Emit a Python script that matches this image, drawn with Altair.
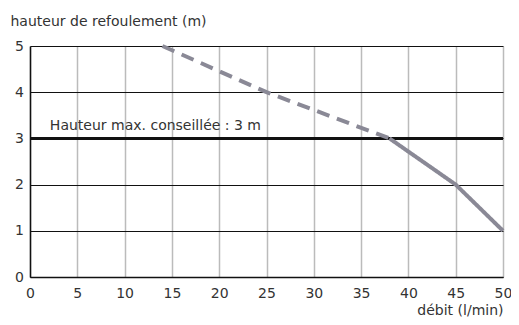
import altair as alt
import pandas as pd

# data
debit = [14, 25, 38, 38, 45, 50]
hauteur = [5, 4, 3, 3, 2, 1]
segment = ["dashed", "dashed", "dashed", "solid", "solid", "solid"]
x_ticks = [0, 5, 10, 15, 20, 25, 30, 35, 40, 45, 50]
y_ticks = [0, 1, 2, 3, 4, 5]
max_height = 3
max_label = "Hauteur max. conseillée : 3 m"

df = pd.DataFrame({"debit": debit, "hauteur": hauteur, "segment": segment})
ref = pd.DataFrame({"y": [max_height], "x": [2.1], "label": [max_label]})

FONT = "DejaVu Sans"
FS = 14
TXT = "#333333"

xenc = alt.X("debit:Q", scale=alt.Scale(domain=[0, 50], nice=False),
             axis=alt.Axis(values=x_ticks, title="débit (l/min)", titleX=473, titleY=37,
                           titleAlign="right", titleBaseline="alphabetic",
                           titleFontWeight="normal", titleFontSize=FS, titleColor=TXT,
                           labelFontSize=FS, labelColor=TXT, labelPadding=9, tickSize=0,
                           grid=True, gridColor="#bbbbbb", gridWidth=1.5,
                           domainColor="#111111", domainWidth=1.5, labelFlush=False))
yenc = alt.Y("hauteur:Q", scale=alt.Scale(domain=[0, 5], nice=False),
             axis=alt.Axis(values=y_ticks, title="hauteur de refoulement (m)", titleAngle=0,
                           titleX=-20, titleY=-21, titleAlign="left", titleBaseline="alphabetic",
                           titleFontWeight="normal", titleFontSize=FS, titleColor=TXT,
                           labelFontSize=FS, labelColor=TXT, labelPadding=11, tickSize=0,
                           labelAlign="center", grid=True, gridColor="#111111", gridWidth=1,
                           domainColor="#111111", domainWidth=1.5))

line = alt.Chart(df).mark_line(color="#8a8996", strokeWidth=4, strokeCap="butt").encode(
    x=xenc, y=yenc,
    strokeDash=alt.StrokeDash("segment:N", scale=alt.Scale(domain=["dashed", "solid"], range=[[13, 8], [1, 0]]), legend=None),
    detail="segment:N",
)

rule = alt.Chart(ref).mark_rule(color="#111111", strokeWidth=3).encode(y="y:Q")
label = alt.Chart(ref).mark_text(align="left", baseline="bottom", dy=-5, fontSize=FS, font=FONT, color=TXT).encode(
    x="x:Q", y="y:Q", text="label:N")

chart = alt.layer(rule, line, label).properties(
    width=473, height=231,
    autosize=alt.AutoSizeParams(type="none"),
    padding={"left": 22, "top": 38, "right": 8, "bottom": 40},
).configure(font=FONT).configure_view(stroke=None)

chart.save("out.html", embed_options={"renderer": "svg", "actions": False})
